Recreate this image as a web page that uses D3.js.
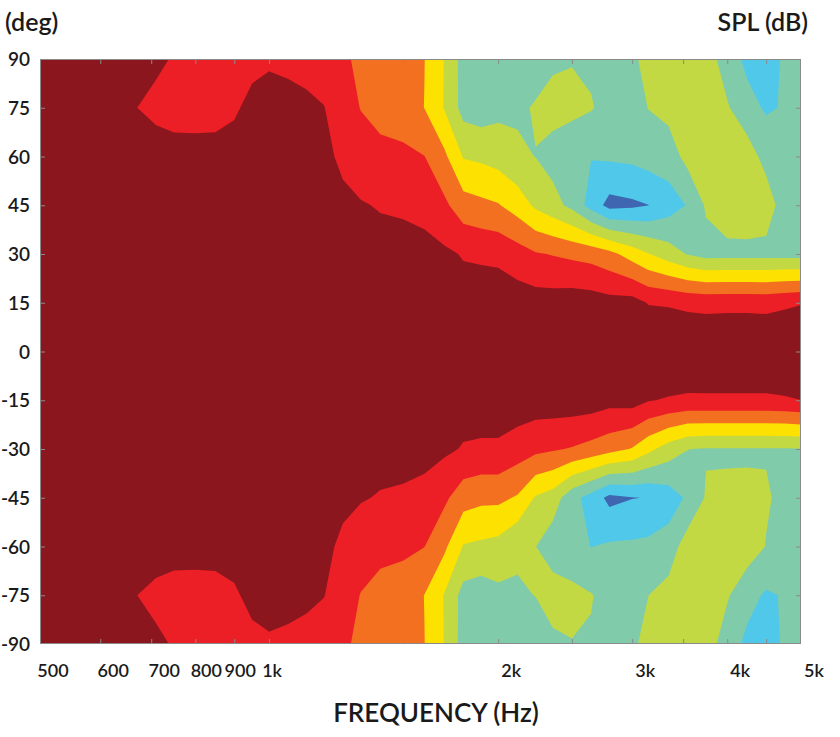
<!DOCTYPE html>
<html lang="en">
	<head>
		<meta charset="utf-8">
		<title>D3: SPL vs angle contour map</title>
		<script type="text/javascript" src="https://d3js.org/d3.v7.min.js"></script>
		<style type="text/css">
			body { margin: 0; background: #fff; }
			text { font-family: Lato, "Open Sans", sans-serif; font-weight: 600; fill: #1a1a1a; }
		</style>
	</head>
	<body>
		<script type="text/javascript">

			//Width and height
			var w = 840;
			var h = 737;

			//measurement grid: frequency columns (Hz) and angle rows (deg)
			var frequencies = [500, 530, 560, 600, 630, 670, 710, 750, 800, 850, 900, 950, 1000, 1060, 1120, 1180,
							   1250, 1320, 1400, 1500, 1600, 1700, 1800, 1900, 2000, 2120, 2240, 2360, 2500, 2650,
							   2800, 3000, 3150, 3350, 3550, 3750, 4000, 4250, 4500, 4750, 5000];
			var angles = [90, 75, 60, 45, 30, 15, 0, -15, -30, -45, -60, -75, -90];

			//relative SPL (dB), one row per angle, one value per frequency
			var spl90  = [-2.0,-2.1,-2.2,-2.3,-2.4,-2.5,-2.5,-3.2,-3.6,-3.8, -3.8,-3.8,-3.5,-3.7,-4.0,-4.6,-5.2,-7.0,-7.5,-7.9, -8.95,-12.1,-16.2,-16.3,-16.0,-16.0,-16.0,-15.5,-15.15,-15.5, -16.0,-15.4,-14.3,-13.8,-13.6,-13.5,-16.5,-18.7,-19.0,-17.7, -16.5];
			var spl75  = [-1.6,-1.8,-2.0,-2.3,-2.6,-2.98,-3.66,-4.0,-4.1,-4.2, -3.4,-2.2,-1.5,-2.0,-2.4,-2.9,-4.6,-6.1,-6.9,-7.2, -9.05,-12.19,-16.1,-16.6,-15.8,-15.4,-14.8,-14.0,-14.25,-14.8, -16.0,-16.3,-14.94,-14.1,-13.5,-13.3,-14.7,-17.0,-18.35,-17.8, -16.5];
			var spl60  = [-1.2,-1.3,-1.4,-1.5,-1.55,-1.6,-1.8,-2.04,-2.0,-1.8, -1.8,-1.6,-1.4,-1.5,-1.7,-2.0,-3.8,-4.6,-5.25,-5.5, -5.95,-8.42,-12.2,-12.6,-13.2,-14.5,-15.05,-16.1,-17.0,-17.9, -17.55,-17.3,-16.7,-16.5,-14.0,-13.5,-13.0,-13.5,-16.1,-16.5, -16.8];
			var spl45  = [-0.9,-0.95,-1.0,-1.05,-1.1,-1.1,-1.2,-1.3,-1.4,-1.4, -1.4,-1.4,-1.4,-1.4,-1.5,-1.6,-2.1,-2.8,-3.19,-3.4, -4.0,-5.42,-7.7,-8.3,-8.8,-10.35,-12.55,-13.95,-15.8,-19.2, -22.0,-21.55,-21.05,-19.4,-17.8,-14.65,-12.9,-12.7,-13.3,-16.5, -16.8];
			var spl30  = [-0.6,-0.65,-0.7,-0.7,-0.75,-0.75,-0.8,-0.85,-0.9,-0.95, -1.0,-1.0,-1.0,-1.1,-1.1,-1.2,-1.6,-2.0,-2.0,-2.0, -1.96,-2.48,-3.2,-3.5,-3.7,-4.7,-5.75,-6.15,-6.65,-7.1, -8.1,-10.3,-11.85,-13.6,-15.2,-16.05,-16.0,-16.0,-16.0,-16.0, -16.05];
			var spl15  = [-0.3,-0.3,-0.35,-0.35,-0.4,-0.4,-0.4,-0.45,-0.45,-0.5, -0.5,-0.5,-0.55,-0.6,-0.6,-0.7,-0.9,-1.1,-1.2,-1.2, -1.3,-1.4,-1.8,-1.3,-1.2,-1.5,-1.7,-1.65,-1.4,-1.6, -2.0,-1.9,-3.15,-3.3,-3.7,-3.9,-3.8,-3.8,-3.9,-3.5, -3.15];
			var spl0   = [0,0,0,0,0,0,0,0,0,0, 0,0,0,0,0,0,0,0,0,0, 0,0,0,0,0,0,0,0,0,0, 0,0,0,0,0,0,0,0,0,0, 0];
			var splM15 = [-0.3,-0.3,-0.35,-0.35,-0.4,-0.4,-0.4,-0.45,-0.45,-0.5, -0.5,-0.5,-0.55,-0.6,-0.6,-0.7,-0.9,-1.1,-1.2,-1.2, -1.3,-1.4,-1.8,-1.3,-1.3,-1.2,-1.5,-1.4,-1.35,-1.45, -2.05,-1.8,-2.85,-3.25,-3.53,-3.5,-3.5,-3.5,-3.5,-3.3, -3.02];
			var splM30 = [-0.6,-0.65,-0.7,-0.7,-0.75,-0.75,-0.8,-0.85,-0.9,-0.95, -1.0,-1.0,-1.0,-1.1,-1.1,-1.2,-1.6,-2.0,-2.0,-2.0, -1.96,-2.48,-3.2,-3.5,-3.5,-4.5,-5.25,-5.7,-6.2,-7.0, -7.9,-9.2,-11.2,-13.4,-14.95,-15.2,-15.2,-15.2,-15.2,-15.2, -15.1];
			var splM45 = [-0.9,-0.95,-1.0,-1.05,-1.1,-1.1,-1.2,-1.3,-1.4,-1.4, -1.4,-1.4,-1.4,-1.4,-1.5,-1.6,-2.1,-2.8,-3.19,-3.4, -4.0,-5.42,-7.7,-8.3,-8.3,-9.3,-12.3,-13.4,-17.0,-19.2, -21.8,-21.1,-20.9,-19.6,-17.5,-14.75,-14.7,-14.67,-14.73,-15.6, -16.8];
			var splM60 = [-1.2,-1.3,-1.4,-1.5,-1.55,-1.6,-1.8,-2.04,-2.0,-1.8, -1.8,-1.6,-1.4,-1.5,-1.7,-2.0,-3.8,-4.6,-5.25,-5.5, -5.95,-8.42,-12.2,-12.6,-13.0,-14.73,-14.95,-16.8,-17.0,-18.05, -17.6,-17.5,-17.28,-16.56,-13.5,-13.5,-13.0,-13.5,-15.1,-16.5, -16.8];
			var splM75 = [-1.6,-1.8,-2.0,-2.3,-2.6,-2.98,-3.66,-4.0,-4.1,-4.2, -3.4,-2.2,-1.5,-2.0,-2.4,-2.9,-4.6,-6.1,-6.9,-7.2, -9.05,-12.19,-16.1,-16.6,-15.7,-15.2,-14.97,-13.4,-14.2,-14.85, -16.0,-16.3,-15.02,-13.96,-13.5,-13.3,-14.7,-17.0,-18.37,-17.8, -16.5];
			var splM90 = [-2.0,-2.1,-2.2,-2.3,-2.4,-2.5,-2.5,-3.2,-3.6,-3.8, -3.8,-3.8,-3.5,-3.7,-4.0,-4.6,-5.2,-7.0,-7.5,-7.9, -8.95,-12.1,-16.2,-16.3,-16.0,-16.0,-16.0,-15.8,-15.1,-15.25, -16.0,-15.4,-14.3,-13.8,-13.6,-13.5,-16.5,-18.7,-19.0,-17.7, -16.5];

			//contour levels (dB) and band colours, lowest band first
			var levels = [-21, -18, -15, -12, -9, -6, -3];
			var colors = ["#3f66b0", "#4fc8ea", "#80cbaa", "#c2d944", "#fde100", "#f37021", "#ed1f26", "#8c161d"];

			//tick values and labels
			var freqTicks = [600, 700, 800, 900, 1000, 1500, 2000, 2500, 3000, 3500, 4000, 4500];
			var freqLabels = [500, 600, 700, 800, 900, 1000, 2000, 3000, 4000, 5000];
			var angleTicks = [90, 75, 60, 45, 30, 15, 0, -15, -30, -45, -60, -75, -90];

			var rows = [spl90, spl75, spl60, spl45, spl30, spl15, spl0, splM15, splM30, splM45, splM60, splM75, splM90];
			var nx = frequencies.length;
			var ny = angles.length;
			var values = [];
			rows.forEach(function(r) { values = values.concat(r); });

			//scales
			var x = d3.scaleLog().domain([500, 5000]).range([40, 801]);
			var y = d3.scaleLinear().domain([-90, 90]).range([644, 59]);

			//grid coordinate (value i sits at i + 0.5) -> pixel, through the scales
			function gridX(gx) {
				var i = Math.max(0, Math.min(nx - 1, gx - 0.5));
				var i0 = Math.min(Math.floor(i), nx - 2), t = i - i0;
				return x(frequencies[i0]) + t * (x(frequencies[i0 + 1]) - x(frequencies[i0]));
			}
			function gridY(gy) {
				var j = Math.max(0, Math.min(ny - 1, gy - 0.5));
				var j0 = Math.min(Math.floor(j), ny - 2), t = j - j0;
				return y(angles[j0]) + t * (y(angles[j0 + 1]) - y(angles[j0]));
			}

			//Create SVG element
			var svg = d3.select("body")
						.append("svg")
						.attr("width", w)
						.attr("height", h);

			svg.append("clipPath")
			   .attr("id", "plot")
			   .append("rect")
			   .attr("x", 40).attr("y", 59).attr("width", 761).attr("height", 585);

			var plot = svg.append("g").attr("clip-path", "url(#plot)");

			//lowest band as background
			plot.append("rect")
				.attr("x", 40).attr("y", 59).attr("width", 761).attr("height", 585)
				.attr("fill", colors[0]);

			var contours = d3.contours()
							 .size([nx, ny])
							 .thresholds(levels)(values);

			plot.selectAll("path")
				.data(contours)
				.enter()
				.append("path")
				.attr("d", function(c) {
					return c.coordinates.map(function(poly) {
						return poly.map(function(ring) {
							return "M" + ring.map(function(p) {
								return gridX(p[0]).toFixed(2) + "," + gridY(p[1]).toFixed(2);
							}).join("L") + "Z";
						}).join("");
					}).join("");
				})
				.attr("fill-rule", "evenodd")
				.attr("fill", function(c, i) { return colors[i + 1]; });

			//frame
			svg.append("rect")
			   .attr("x", 40.5).attr("y", 59.5).attr("width", 760).attr("height", 584)
			   .attr("fill", "none")
			   .attr("stroke", "#8a8a8a")
			   .attr("stroke-width", 1);

			//inward ticks on all four sides
			function styleTicks(g) {
				g.select(".domain").remove();
				g.selectAll("line").attr("stroke", "#8a8a8a");
			}
			svg.append("g").attr("transform", "translate(0,644)")
			   .call(d3.axisBottom(x).tickValues(freqTicks).tickSize(-5).tickFormat(""))
			   .call(styleTicks);
			svg.append("g").attr("transform", "translate(0,59)")
			   .call(d3.axisTop(x).tickValues(freqTicks).tickSize(-5).tickFormat(""))
			   .call(styleTicks);
			svg.append("g").attr("transform", "translate(40,0)")
			   .call(d3.axisLeft(y).tickValues(angleTicks.slice(1, -1)).tickSize(-5).tickFormat(""))
			   .call(styleTicks);
			svg.append("g").attr("transform", "translate(801,0)")
			   .call(d3.axisRight(y).tickValues(angleTicks.slice(1, -1)).tickSize(-5).tickFormat(""))
			   .call(styleTicks);

			//x labels (800, 900 and 1k nudged left, as in the crowded original)
			var labelShift = { 800: -2, 900: -7, 1000: -10 };
			svg.selectAll("text.xl")
			   .data(freqLabels)
			   .enter()
			   .append("text")
			   .attr("class", "xl")
			   .text(function(d) { return d >= 1000 ? (d / 1000) + "k" : d; })
			   .attr("text-anchor", "middle")
			   .attr("font-size", "18px")
			   .attr("x", function(d) { return x(d) + 13 + (labelShift[d] || 0); })
			   .attr("y", 677);

			//y labels
			svg.selectAll("text.yl")
			   .data(angleTicks)
			   .enter()
			   .append("text")
			   .attr("class", "yl")
			   .text(function(d) { return d; })
			   .attr("text-anchor", "end")
			   .attr("font-size", "19px")
			   .attr("x", 30)
			   .attr("y", function(d) { return y(d) + 7; });

			//titles
			svg.append("text").text("(deg)")
			   .attr("x", 5).attr("y", 31)
			   .attr("font-size", "25px");
			svg.append("text").text("SPL (dB)")
			   .attr("x", 808).attr("y", 31)
			   .attr("text-anchor", "end")
			   .attr("font-size", "25px");
			svg.append("text").text("FREQUENCY (Hz)")
			   .attr("x", 436).attr("y", 722)
			   .attr("text-anchor", "middle")
			   .attr("font-size", "26px");

		</script>
	</body>
</html>
